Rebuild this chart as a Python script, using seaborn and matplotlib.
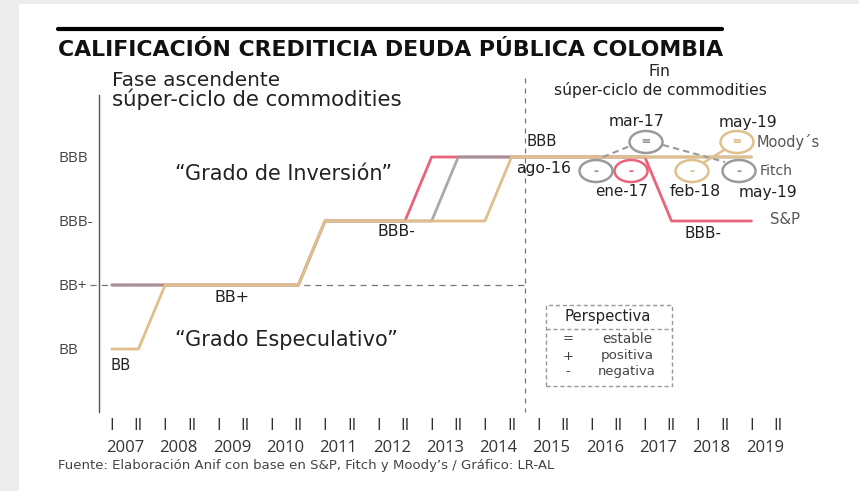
import matplotlib
matplotlib.use("Agg")
import matplotlib.pyplot as plt
import seaborn as sns
import pandas as pd
from matplotlib.patches import Ellipse, Rectangle
from matplotlib.lines import Line2D

# ---------------- data ----------------
rating_labels = ["BB", "BB+", "BBB-", "BBB"]
years = list(range(2007, 2020))
semesters = ["I", "II"]

sp_t = [2007.25, 2010.75, 2011.25, 2012.75, 2013.25, 2017.25, 2017.75, 2019.25]
sp_r = [1, 1, 2, 2, 3, 3, 2, 2]
fitch_t = [2007.25, 2010.75, 2011.25, 2013.25, 2013.75, 2019.25]
fitch_r = [1, 1, 2, 2, 3, 3]
moodys_t = [2007.25, 2007.75, 2008.25, 2010.75, 2011.25, 2014.25, 2014.75, 2019.25]
moodys_r = [0, 0, 1, 1, 2, 2, 3, 3]

# outlook events: label, agency, symbol
outlook_labels = ["ago-16", "ene-17", "mar-17", "feb-18", "may-19", "may-19"]
outlook_agency = ["Fitch", "S&P", "Fitch", "Moody´s", "Moody´s", "Fitch"]
outlook_symbol = ["-", "-", "=", "-", "=", "-"]

# ---------------- layout helpers ----------------
W, H = 859, 491
X0, SX = 98.5, 53.3
Y0, SY = 349.0, 64.0


def tx(px):
    return 2007 + (px - X0) / SX


def vy(py):
    return (Y0 - py) / SY


def fx(px):
    return px / W


def fy(py):
    return 1 - py / H


colors = {"S&P": "#e8637b", "Fitch": "#9a9a9a", "Moody´s": "#dfc08c"}
WIDE = ["DejaVu Sans"]

sns.set_theme(style="white")
plt.rcParams["font.family"] = ["Open Sans", "DejaVu Sans"]

fig = plt.figure(figsize=(W / 100, H / 100), dpi=100)
fig.patch.set_facecolor("white")
fig.patches.append(Rectangle((0, 0), fx(19), 1, transform=fig.transFigure,
                             facecolor="#ececec", edgecolor="none", zorder=0))
fig.patches.append(Rectangle((0, fy(4)), 1, 4 / H, transform=fig.transFigure,
                             facecolor="#ececec", edgecolor="none", zorder=0))

ax_l, ax_r, ax_t, ax_b = 99, 830, 95, 412
ax = fig.add_axes([fx(ax_l), fy(ax_b), (ax_r - ax_l) / W, (ax_b - ax_t) / H])
ax.set_facecolor("none")

df = pd.concat([
    pd.DataFrame({"t": sp_t, "r": sp_r, "agency": "S&P"}),
    pd.DataFrame({"t": fitch_t, "r": fitch_r, "agency": "Fitch"}),
    pd.DataFrame({"t": moodys_t, "r": moodys_r, "agency": "Moody´s"}),
], ignore_index=True)

# reference dashed lines
ax.plot([tx(90), 2015.0], [1, 1], color="#777777", lw=0.9, ls=(0, (5, 4)),
        clip_on=False, zorder=1)
ax.plot([2015.0, 2015.0], [vy(78), vy(412)], color="#777777", lw=0.9,
        ls=(0, (4, 4)), clip_on=False, zorder=1)

for ag, a in [("S&P", 1.0), ("Fitch", 0.85), ("Moody´s", 1.0)]:
    sns.lineplot(data=df[df.agency == ag], x="t", y="r", color=colors[ag],
                 lw=2.0, alpha=a, sort=False, estimator=None, ax=ax,
                 legend=False, zorder=3)

ax.set_xlim(tx(ax_l), tx(ax_r))
ax.set_ylim(vy(ax_b), vy(ax_t))
ax.set_xlabel("")
ax.set_ylabel("")
for s in ["top", "right", "bottom"]:
    ax.spines[s].set_visible(False)
ax.spines["left"].set_color("#555555")
ax.spines["left"].set_linewidth(1.0)

ax.set_yticks(range(len(rating_labels)), labels=rating_labels)
ax.tick_params(axis="y", length=0, pad=29.5, labelsize=11, labelcolor="#444444")
for lab in ax.get_yticklabels():
    lab.set_horizontalalignment("left")

ax.set_xticks([y + 0.5 for y in years], labels=[str(y) for y in years])
ax.set_xticks([y + d for y in years for d in (0.25, 0.75)],
              labels=semesters * len(years), minor=True)
ax.tick_params(axis="x", which="major", length=0, pad=20, labelsize=12,
               labelcolor="#333333")
ax.tick_params(axis="x", which="minor", length=0, pad=4, labelsize=12,
               labelcolor="#333333", bottom=True)

fits = []  # (text, target width px)

# ---------------- outlook circles ----------------
circ_px = [(596, 171), (631, 171), (646, 142), (692, 171), (737, 142), (739, 171)]
ew, eh = 33 / SX, 22 / SY
for (cx, cy), ag, sym in zip(circ_px, outlook_agency, outlook_symbol):
    e = Ellipse((tx(cx), vy(cy)), ew, eh, facecolor="white",
                edgecolor=colors[ag], lw=1.8, zorder=5, clip_on=False)
    ax.add_patch(e)
    ax.text(tx(cx), vy(cy), sym, color=colors[ag], ha="center", va="center",
            fontsize=11, fontweight="bold", zorder=6)

ax.plot([tx(603), tx(630)], [vy(157), vy(146)], color="#9a9a9a", lw=1.5,
        ls=(0, (3, 2)), zorder=4)
ax.plot([tx(663), tx(725)], [vy(145), vy(162)], color="#9a9a9a", lw=1.5,
        ls=(0, (3, 2)), zorder=4)
ax.plot([tx(703), tx(724)], [vy(163), vy(150)], color=colors["Moody´s"], lw=1.8,
        zorder=4)

# labels for outlook events
lab_px = [(544, 169, 55), (622, 192, 53), (637, 122, 56), (695, 192, 51),
          (748, 122, 59), (768, 192, 59)]
for (lx, ly, w), txt in zip(lab_px, outlook_labels):
    t = ax.text(tx(lx), vy(ly), txt, ha="center", va="center", fontsize=11.5,
                color="#222222", clip_on=False, family=WIDE)
    fits.append((t, w))

fits.append((ax.text(tx(757), vy(142), "Moody´s", ha="left", va="center",
                     fontsize=11, color="#555555", family=WIDE), 64))
fits.append((ax.text(tx(760), vy(171), "Fitch", ha="left", va="center",
                     fontsize=11, color="#555555", family=WIDE), 33))
fits.append((ax.text(tx(770), vy(220), "S&P", ha="left", va="center",
                     fontsize=11, color="#555555", family=WIDE), 30))

# rating annotations on lines
fits.append((ax.text(tx(527), vy(141), "BBB", ha="left", va="center",
                     fontsize=11.5, color="#222222", family=WIDE), 31))
fits.append((ax.text(tx(703), vy(233), "BBB-", ha="center", va="center",
                     fontsize=11.5, color="#222222", family=WIDE), 37))
fits.append((ax.text(tx(396), vy(232), "BBB-", ha="center", va="center",
                     fontsize=11.5, color="#222222", family=WIDE), 38))
fits.append((ax.text(tx(232), vy(297), "BB+", ha="center", va="center",
                     fontsize=11.5, color="#222222", family=WIDE), 35))
fits.append((ax.text(tx(121), vy(365), "BB", ha="center", va="center",
                     fontsize=11.5, color="#222222", family=WIDE), 20))

fits.append((ax.text(tx(283.5), vy(174), "“Grado de Inversión”", ha="center",
                     va="center", fontsize=13, color="#222222", family=WIDE), 217))
fits.append((ax.text(tx(286), vy(340), "“Grado Especulativo”", ha="center",
                     va="center", fontsize=13, color="#222222", family=WIDE), 222))

# legend box
bx0, bx1, by0, by1 = 546, 672, 305, 386
ax.add_patch(Rectangle((tx(bx0), vy(by1)), tx(bx1) - tx(bx0), vy(by0) - vy(by1),
                       fill=False, edgecolor="#999999", lw=1.0, ls=(0, (3, 2)),
                       zorder=2))
ax.plot([tx(bx0), tx(bx1)], [vy(329), vy(329)], color="#999999", lw=1.0,
        ls=(0, (3, 2)), zorder=2)
fits.append((ax.text(tx(608), vy(317), "Perspectiva", ha="center", va="center",
                     fontsize=11.5, color="#222222", family=WIDE), 87))
for yy, sym, word, w in [(339, "=", "estable", 50), (356, "+", "positiva", 53),
                         (372, "-", "negativa", 58)]:
    ax.text(tx(568), vy(yy), sym, ha="center", va="center", fontsize=9.5,
            color="#444444", family=WIDE)
    fits.append((ax.text(tx(627), vy(yy), word, ha="center", va="center",
                         fontsize=11, color="#444444", family=WIDE), w))

# ---------------- figure-level texts ----------------
fig.lines.append(Line2D([fx(58), fx(722)], [fy(29), fy(29)], transform=fig.transFigure,
                        color="black", lw=3.0))
fits.append((fig.text(fx(58), fy(50), "CALIFICACIÓN CREDITICIA DEUDA PÚBLICA COLOMBIA",
                      ha="left", va="center", fontsize=14.5, fontweight="bold",
                      color="#111111", family=WIDE), 664))
fits.append((fig.text(fx(112), fy(80), "Fase ascendente", ha="left", va="center",
                      fontsize=13, color="#222222", family=WIDE), 168))
fits.append((fig.text(fx(112), fy(99), "súper-ciclo de commodities", ha="left",
                      va="center", fontsize=13, color="#222222", family=WIDE), 290))
fin1 = fig.text(fx(660), fy(71), "Fin", ha="center", va="center",
                fontsize=11.5, color="#222222", family=WIDE)
fin2 = fig.text(fx(660.5), fy(90), "súper-ciclo de commodities", ha="center",
                va="center", fontsize=11.5, color="#222222", family=WIDE)
fits.append((fin2, 213))
fits.append((fig.text(fx(58), fy(466),
                      "Fuente: Elaboración Anif con base en S&P, Fitch y Moody’s / Gráfico: LR-AL",
                      ha="left", va="center", fontsize=9.5, color="#444444",
                      family=WIDE), 491))

# fit text widths to reference
renderer = fig.canvas.get_renderer()
for _ in range(2):
    for t, w in fits:
        cur = t.get_window_extent(renderer).width
        if cur > 0:
            t.set_fontsize(t.get_fontsize() * w / cur)
fin1.set_fontsize(fin2.get_fontsize())

fig.savefig("out.png", dpi=100, facecolor=fig.get_facecolor())
